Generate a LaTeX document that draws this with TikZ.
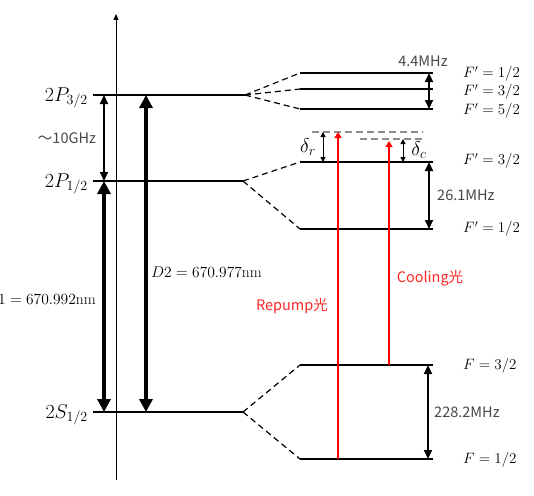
\RequirePackage{fix-cm}
\documentclass[tikz,border=0pt]{standalone}
\usepackage{fontspec}
\newfontfamily\jp{Noto Sans CJK JP}
\usetikzlibrary{arrows.meta}
\begin{document}
\begin{tikzpicture}[x=1pt,y=-1pt,
  level/.style={line width=1.5pt},
  fan/.style={line width=1.2pt, dash pattern=on 6pt off 4pt},
  bigarrow/.style={line width=4.5pt, {Triangle[length=13pt,width=13pt]}-{Triangle[length=13pt,width=13pt]}},
  midarrow/.style={line width=2pt, {Triangle[length=9pt,width=8pt]}-{Triangle[length=9pt,width=8pt]}},
  smallarrow/.style={line width=1pt, {Triangle[length=5pt,width=5pt]}-{Triangle[length=5pt,width=5pt]}},
  laser/.style={red, line width=2.5pt, -{Triangle[length=6pt,width=7pt]}},
  detune/.style={black!45, line width=1.5pt, dash pattern=on 7pt off 4pt},
  freq/.style={font=\jp\fontsize{14.5}{16}\selectfont, text=black!72, inner sep=0pt},
  laserlbl/.style={font=\jp\fontsize{14.5}{16}\selectfont, text=red!85!white, inner sep=0pt},
  lvllbl/.style={font=\fontsize{20}{22}\selectfont, inner sep=0pt},
  dlbl/.style={font=\fontsize{20}{22}\selectfont, inner sep=0pt},
  hflbl/.style={font=\fontsize{15}{17}\selectfont, inner sep=0pt, anchor=west},
  wl/.style={font=\fontsize{15.5}{17}\selectfont, inner sep=0pt}
]
\useasboundingbox (0,0) rectangle (534,495);
\clip (0,0) rectangle (534,495);

% axis
\coordinate (axb) at (116,480);
\coordinate (axt) at (116,14);
\draw[line width=1pt, -{Triangle[length=6pt,width=5pt]}] (axb) -- (axt);

% fine structure levels
\coordinate (P3L) at (93,95);  \coordinate (P3R) at (245,95);
\coordinate (P1L) at (93,181); \coordinate (P1R) at (243,181);
\coordinate (SL)  at (93,412); \coordinate (SR)  at (243,412);
\draw[level] (P3L) -- (P3R);
\draw[level] (P1L) -- (P1R);
\draw[level] (SL) -- (SR);
\node[lvllbl, anchor=east] (lP3) at (88,98) {$2P_{3/2}$};
\node[lvllbl, anchor=east] (lP1) at (88,184) {$2P_{1/2}$};
\node[lvllbl, anchor=east] (lS)  at (88,415) {$2S_{1/2}$};

% vertical arrows on left
\coordinate (g1) at (104,95);  \coordinate (g2) at (104,181);
\coordinate (d1b) at (104,412);
\coordinate (d2t) at (146,95); \coordinate (d2b) at (146,412);
\draw[midarrow] (g1) -- (g2);
\draw[bigarrow] (g2) -- (d1b);
\draw[bigarrow] (d2t) -- (d2b);
\node[freq] (lg) at (67,138) {～10GHz};
\node[wl, anchor=east] (ld1) at (96,299) {$D1 = 670.992$nm};
\node[wl, anchor=west] (ld2) at (151,272) {$D2 = 670.977$nm};

% hyperfine levels 2P3/2
\coordinate (a1l) at (300,73);  \coordinate (a1r) at (433,73);
\coordinate (a2l) at (300,89);  \coordinate (a2r) at (433,89);
\coordinate (a3l) at (300,109); \coordinate (a3r) at (433,109);
\draw[fan] (P3R) -- (a1l);
\draw[fan] (P3R) -- (a2l);
\draw[fan] (P3R) -- (a3l);
\draw[level] (a1l) -- (a1r);
\draw[level] (a2l) -- (a2r);
\draw[level] (a3l) -- (a3r);
\coordinate (h1t) at (429,73); \coordinate (h1b) at (429,109);
\draw[midarrow] (h1t) -- (h1b);
\node[freq] (l44) at (423,61) {4.4MHz};
\node[hflbl] (fa1) at (463,74) {$F' = 1/2$};
\node[hflbl] (fa2) at (463,92) {$F' = 3/2$};
\node[hflbl] (fa3) at (463,111) {$F' = 5/2$};

% hyperfine levels 2P1/2
\coordinate (b1l) at (300,162); \coordinate (b1r) at (433,162);
\coordinate (b2l) at (300,229); \coordinate (b2r) at (433,229);
\draw[fan] (P1R) -- (b1l);
\draw[fan] (P1R) -- (b2l);
\draw[level] (b1l) -- (b1r);
\draw[level] (b2l) -- (b2r);
\coordinate (h2t) at (429,162); \coordinate (h2b) at (429,229);
\draw[midarrow] (h2t) -- (h2b);
\node[freq, anchor=west] (l261) at (437,195) {26.1MHz};
\node[hflbl] (fb1) at (463,161) {$F' = 3/2$};
\node[hflbl] (fb2) at (463,229) {$F' = 1/2$};

% hyperfine levels 2S1/2
\coordinate (c1l) at (300,365); \coordinate (c1r) at (433,365);
\coordinate (c2l) at (300,459); \coordinate (c2r) at (433,459);
\draw[fan] (SR) -- (c1l);
\draw[fan] (SR) -- (c2l);
\draw[level] (c1l) -- (c1r);
\draw[level] (c2l) -- (c2r);
\coordinate (h3t) at (428,365); \coordinate (h3b) at (428,459);
\draw[midarrow] (h3t) -- (h3b);
\node[freq, anchor=west] (l228) at (434,412) {228.2MHz};
\node[hflbl] (fc1) at (463,366) {$F = 3/2$};
\node[hflbl] (fc2) at (463,460) {$F = 1/2$};

% detuned levels
\coordinate (rl) at (312,132); \coordinate (rr) at (423,132);
\coordinate (cl) at (360,139); \coordinate (cr) at (422,139);
\draw[detune] (rl) -- (rr);
\draw[detune] (cl) -- (cr);
\coordinate (drt) at (323,132); \coordinate (drb) at (323,162);
\coordinate (dct) at (403,139); \coordinate (dcb) at (403,162);
\draw[smallarrow] (drt) -- (drb);
\draw[smallarrow] (dct) -- (dcb);
\node[dlbl] (ldr) at (308,147) {$\delta_r$};
\node[dlbl] (ldc) at (419,150) {$\delta_c$};

% lasers
\coordinate (rpb) at (338,459); \coordinate (rpt) at (338,132);
\coordinate (cob) at (389,365); \coordinate (cot) at (389,141);
\draw[laser] (rpb) -- (rpt);
\draw[laser] (cob) -- (cot);
\node[laserlbl] (lrp) at (292,306) {Repump光};
\node[laserlbl] (lco) at (430,278) {Cooling光};
\end{tikzpicture}
\end{document}
